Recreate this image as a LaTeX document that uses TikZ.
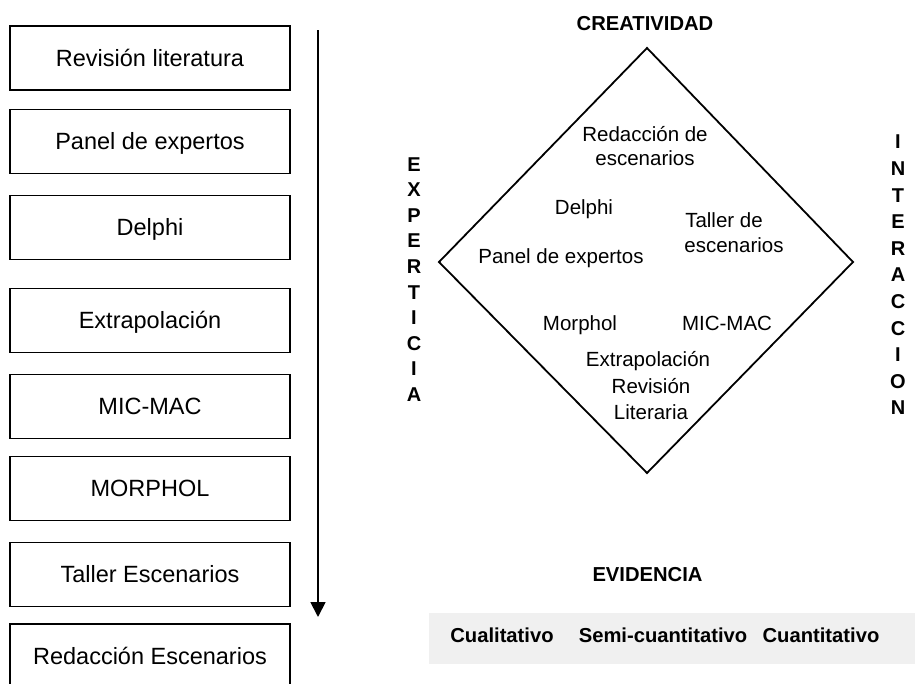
\documentclass[tikz,border=0pt]{standalone}
\usepackage{fontspec}
\setmainfont{Liberation Sans}
\usetikzlibrary{arrows.meta}
\definecolor{barfill}{HTML}{F0F0F0}
\begin{document}
\begin{tikzpicture}[x=1pt,y=-1pt,
  stepbox/.style={draw, line width=1.8pt, minimum width=280pt, minimum height=64pt,
    inner sep=0pt, text height=16.8pt, text depth=0pt, font=\fontsize{23.5}{28}\selectfont},
  dtext/.style={inner sep=0pt, text height=14.7pt, text depth=0pt, font=\fontsize{20.5}{25}\selectfont},
  blabel/.style={inner sep=0pt, text height=14.4pt, text depth=0pt, font=\bfseries\fontsize{20.2}{24}\selectfont},
  vword/.style={inner sep=0pt, align=center, font=\bfseries\fontsize{20}{#1}\selectfont},
  edge line/.style={line width=1.8pt},
]
\useasboundingbox (0,0) rectangle (915,683);

% left column of steps
\node[stepbox] (b1) at (150,58)    {Revisión literatura};
\node[stepbox] (b2) at (150,141.5) {Panel de expertos};
\node[stepbox] (b3) at (150,227.5) {Delphi};
\node[stepbox] (b4) at (150,320.5) {Extrapolación};
\node[stepbox] (b5) at (150,406.5) {MIC-MAC};
\node[stepbox] (b6) at (150,488.5) {MORPHOL};
\node[stepbox] (b7) at (150,574.5) {Taller Escenarios};
\node[stepbox] (b8) at (150,656)   {Redacción Escenarios};

% time arrow
\coordinate (atop) at (318,30);
\coordinate (atip) at (318,617);
\draw[edge line, -{Triangle[width=15pt,length=15pt]}] (atop) -- (atip);

% diamond
\coordinate (dT) at (647,48);
\coordinate (dR) at (853,262);
\coordinate (dB) at (647,473);
\coordinate (dL) at (439,262);
\draw[edge line, line join=miter] (dT) -- (dR) -- (dB) -- (dL) -- cycle;

\node[blabel] (crea) at (645,23.7) {CREATIVIDAD};
\node[blabel] (evid) at (647.5,574) {EVIDENCIA};
\node[vword=25.6] (expe) at (414,279.5) {E\\X\\P\\E\\R\\T\\I\\C\\I\\A};
\node[vword=26.6] (inte) at (898,275) {I\\N\\T\\E\\R\\A\\C\\C\\I\\O\\N};

% texts inside the diamond
\node[dtext] (red1) at (645,134.5) {Redacción de};
\node[dtext] (red2) at (645,158)   {escenarios};
\node[dtext] (del)  at (584,207)   {Delphi};
\node[dtext] (tal1) at (724,220)   {Taller de};
\node[dtext] (tal2) at (734,245)   {escenarios};
\node[dtext] (pan)  at (561,256)   {Panel de expertos};
\node[dtext] (mor)  at (580,323)   {Morphol};
\node[dtext] (mic)  at (727,323)   {MIC-MAC};
\node[dtext] (ext)  at (648,359.5) {Extrapolación};
\node[dtext] (rev1) at (651,386.5) {Revisión};
\node[dtext] (rev2) at (651,412)   {Literaria};

% evidence scale bar
\node[fill=barfill, minimum width=486pt, minimum height=51pt, inner sep=0pt] (bar) at (672,638.5) {};
\node[blabel] (cual) at (502,635.5) {Cualitativo};
\node[blabel] (semi) at (663,635.5) {Semi-cuantitativo};
\node[blabel] (cuan) at (821,635.5) {Cuantitativo};
\end{tikzpicture}
\end{document}
